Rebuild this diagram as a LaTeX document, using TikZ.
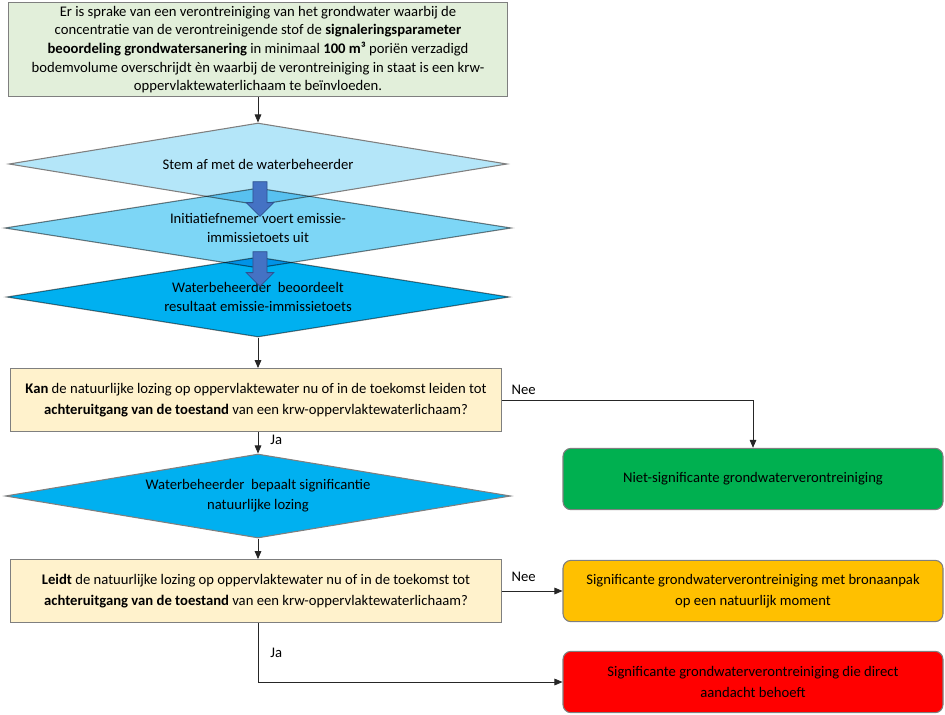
\documentclass[tikz,border=0pt]{standalone}
\usepackage{fontspec}
\setmainfont{Carlito}
\usetikzlibrary{shapes.geometric,shapes.arrows,arrows.meta}

\definecolor{groenlicht}{HTML}{E2EFDA}
\definecolor{ruitlicht}{HTML}{B4E6F9}
\definecolor{ruitmidden}{HTML}{7DD6F6}
\definecolor{ruitdonker}{HTML}{00B0F0}
\definecolor{geellicht}{HTML}{FFF2CC}
\definecolor{groen}{HTML}{00B050}
\definecolor{oranje}{HTML}{FFC000}
\definecolor{rood}{HTML}{FF0000}
\definecolor{blokblauw}{HTML}{4472C4}
\definecolor{blokrand}{HTML}{2F528F}
\definecolor{randgrijs}{HTML}{7F7F7F}

\tikzset{
  startbox/.style={draw=randgrijs, line width=0.9pt, fill=groenlicht, align=center,
    minimum width=374pt, minimum height=71pt, inner sep=2pt,
    font=\fontsize{11}{14}\selectfont},
  ruit/.style={diamond, draw=randgrijs, line width=0.8pt, align=center, inner sep=0pt,
    shape aspect=6, font=\fontsize{11}{14}\selectfont},
  vraagbox/.style={draw=randgrijs, line width=0.9pt, fill=geellicht, align=center,
    minimum width=368pt, minimum height=47pt, inner sep=2pt,
    font=\fontsize{11}{15.5}\selectfont},
  uitkomst/.style={draw=randgrijs, line width=0.8pt, rounded corners=6pt, align=center,
    minimum width=285pt, minimum height=46pt, inner sep=2pt,
    font=\fontsize{11}{15.5}\selectfont},
  blokpijl/.style={single arrow, rotate=-90, fill=blokblauw, draw=blokrand, line width=0.6pt,
    minimum height=26pt, inner sep=5pt, single arrow head extend=5pt, single arrow head indent=0pt},
  pijl/.style={draw=black!85, line width=0.6pt, -{Triangle[length=6pt,width=5pt]}},
  label/.style={font=\fontsize{11}{13}\selectfont, inner sep=1pt}
}

\begin{document}
\begin{tikzpicture}[x=0.75pt, y=-0.75pt]
  \useasboundingbox (0,0) rectangle (945,714);

  % beginsituatie
  \node[startbox] (start) at (258,49.5) {Er is sprake van een verontreiniging van het grondwater waarbij de\\
    concentratie van de verontreinigende stof de \textbf{signaleringsparameter}\\
    \textbf{beoordeling grondwatersanering} in minimaal \textbf{100 m³} poriën verzadigd\\
    bodemvolume overschrijdt èn waarbij de verontreiniging in staat is een krw-\\
    oppervlaktewaterlichaam te beïnvloeden.};

  % stappen met de waterbeheerder
  \node[ruit, fill=ruitlicht, minimum width=373.5pt, minimum height=61.5pt] (stem) at (258,164) {Stem af met de waterbeheerder};
  \begin{scope}[blend mode=multiply]
    \node[ruit, fill=ruitmidden, minimum width=380pt, minimum height=60pt] (toets) at (258,228) {Initiatiefnemer voert emissie-\\immissietoets uit};
    \node[ruit, fill=ruitdonker, minimum width=377pt, minimum height=60pt] (oordeel) at (258,297) {Waterbeheerder\ \ beoordeelt\\resultaat emissie-immissietoets};
  \end{scope}
  \node[blokpijl] (p1) at (260,195.5) {};
  \node[blokpijl] (p2) at (260,265.5) {};

  % eerste vraag
  \node[vraagbox] (kan) at (256,400) {\textbf{Kan} de natuurlijke lozing op oppervlaktewater nu of in de toekomst leiden tot\\
    \textbf{achteruitgang van de toestand} van een krw-oppervlaktewaterlichaam?};
  \node[uitkomst, fill=groen] (nietsig) at (753,479) {Niet-significante grondwaterverontreiniging};

  \node[ruit, fill=ruitdonker, minimum width=379pt, minimum height=63pt, font=\fontsize{11}{15}\selectfont] (bepaal) at (258,496) {Waterbeheerder\ \ bepaalt significantie\\natuurlijke lozing};

  % tweede vraag
  \node[vraagbox] (leidt) at (256,591) {\textbf{Leidt} de natuurlijke lozing op oppervlaktewater nu of in de toekomst tot\\
    \textbf{achteruitgang van de toestand} van een krw-oppervlaktewaterlichaam?};
  \node[uitkomst, fill=oranje] (bron) at (753,591) {Significante grondwaterverontreiniging met bronaanpak\\op een natuurlijk moment};
  \node[uitkomst, fill=rood] (direct) at (753,682) {Significante grondwaterverontreiniging die direct\\aandacht behoeft};

  % verbindingen
  \draw[pijl] (start.south) -- (stem.north);
  \draw[pijl] (oordeel.south) -- (kan.north -| oordeel.south);
  \draw[pijl] (kan.east) -| node[label, pos=0, above right, xshift=6pt, yshift=3pt] {Nee} (nietsig.north);
  \draw[pijl] (kan.south -| bepaal.north) -- node[label, right, xshift=8pt, yshift=2pt] {Ja} (bepaal.north);
  \draw[pijl] (bepaal.south) -- (leidt.north -| bepaal.south);
  \draw[pijl] (leidt.east) -- node[label, pos=0, above right, xshift=6pt, yshift=6pt] {Nee} (bron.west);
  \draw[pijl] (leidt.south -| bepaal.south) |- node[label, pos=0.25, right, xshift=8pt] {Ja} (direct.west);
\end{tikzpicture}
\end{document}
